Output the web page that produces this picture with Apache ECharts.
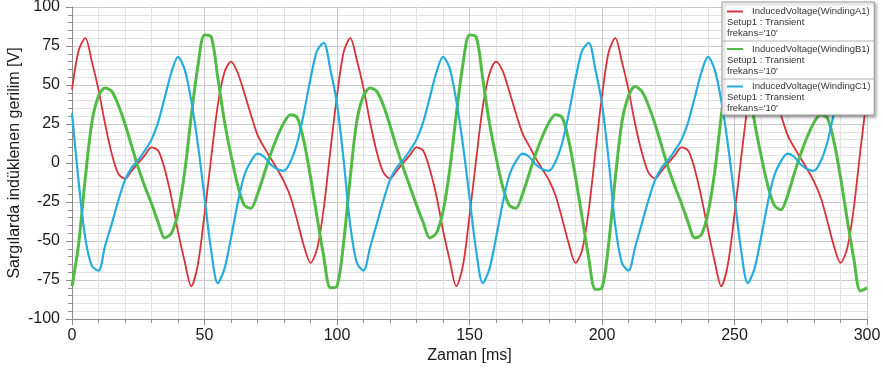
<!DOCTYPE html>
<html>
<head>
<meta charset="utf-8">
<script src="https://cdn.jsdelivr.net/npm/echarts@6/dist/echarts.min.js"></script>
<style>
  html, body { margin: 0; padding: 0; background: #fff; }
  #chart { width: 883px; height: 375px; }
</style>
</head>
<body>
<div id="chart"></div>
<script>
// time samples [ms], read every 2.5 ms
const timeMs = [
  0, 2.5, 5, 7.5, 10, 12.5, 15, 17.5, 20, 22.5, 25, 27.5, 30, 32.5, 35, 37.5, 40, 42.5, 45, 47.5,
  50, 52.5, 55, 57.5, 60, 62.5, 65, 67.5, 70, 72.5, 75, 77.5, 80, 82.5, 85, 87.5, 90, 92.5, 95, 97.5,
  100, 102.5, 105, 107.5, 110, 112.5, 115, 117.5, 120, 122.5, 125, 127.5, 130, 132.5, 135, 137.5, 140, 142.5, 145, 147.5,
  150, 152.5, 155, 157.5, 160, 162.5, 165, 167.5, 170, 172.5, 175, 177.5, 180, 182.5, 185, 187.5, 190, 192.5, 195, 197.5,
  200, 202.5, 205, 207.5, 210, 212.5, 215, 217.5, 220, 222.5, 225, 227.5, 230, 232.5, 235, 237.5, 240, 242.5, 245, 247.5,
  250, 252.5, 255, 257.5, 260, 262.5, 265, 267.5, 270, 272.5, 275, 277.5, 280, 282.5, 285, 287.5, 290, 292.5, 295, 297.5,
  300
];

const windingA1 = [
  47, 72, 80, 65, 47, 25, 6, -7, -10, -5, 0, 5, 10, 8, -4, -22, -44, -63, -79, -65,
  -33, 3, 37, 58, 65, 58, 45, 31, 18, 10, 3, -4, -12, -22, -37, -53, -64, -55, -29, 8,
  43, 71, 80, 66, 48, 26, 7, -6, -10, -5, 0, 5, 10, 8, -4, -21, -43, -62, -79, -66,
  -34, 2, 36, 57, 65, 59, 46, 32, 19, 11, 3, -4, -11, -21, -36, -52, -64, -56, -30, 7,
  43, 71, 80, 65, 47, 25, 7, -6, -10, -5, 0, 5, 10, 8, -4, -22, -43, -63, -79, -65,
  -33, 3, 37, 58, 65, 58, 45, 31, 18, 10, 3, -4, -12, -22, -37, -53, -64, -55, -29, 8,
  43
];

const windingB1 = [
  -79, -52, -10, 26, 43, 48, 46, 37, 25, 11, -3, -15, -26, -38, -48, -45, -32, -6, 30, 62,
  82, 81, 55, 27, 5, -14, -27, -29, -20, -7, 6, 17, 26, 31, 29, 14, -9, -35, -60, -80,
  -79, -51, -9, 27, 43, 48, 46, 37, 24, 10, -3, -15, -27, -38, -48, -45, -31, -5, 31, 63,
  82, 81, 54, 26, 4, -15, -27, -29, -20, -7, 6, 17, 26, 31, 29, 14, -9, -35, -61, -81,
  -80, -52, -10, 26, 43, 49, 46, 37, 25, 11, -3, -15, -26, -38, -48, -46, -32, -6, 30, 62,
  82, 81, 55, 27, 5, -14, -27, -30, -21, -7, 6, 17, 26, 31, 29, 14, -9, -36, -61, -82,
  -80
];

const windingC1 = [
  32, -12, -48, -66, -69, -53, -39, -24, -11, -3, 2, 8, 15, 26, 42, 58, 68, 60, 40, 12,
  -22, -56, -77, -68, -48, -26, -8, 1, 6, 4, -1, -4, -5, 1, 13, 32, 54, 72, 77, 60,
  38, 2, -40, -64, -69, -54, -39, -24, -11, -3, 2, 8, 15, 26, 42, 58, 68, 61, 40, 12,
  -22, -56, -77, -68, -48, -26, -8, 1, 6, 4, -1, -4, -5, 1, 13, 32, 54, 72, 77, 60,
  38, 2, -40, -64, -69, -54, -39, -24, -11, -3, 2, 8, 15, 26, 42, 58, 68, 60, 40, 12,
  -22, -56, -77, -68, -48, -26, -8, 1, 6, 4, -1, -4, -5, 1, 13, 32, 54, 72, 77, 60,
  36
];

const seriesNames = ['InducedVoltage(WindingA1)', 'InducedVoltage(WindingB1)', 'InducedVoltage(WindingC1)'];
const seriesColors = ['#d8313a', '#52bb45', '#26acde'];
const seriesWidths = [1.8, 3, 2.2];
const legendSubLines = ['Setup1 : Transient', "frekans='10'"];

const font = "'Liberation Sans', Arial, sans-serif";
const pairs = vals => timeMs.map((t, i) => [t, vals[i]]);
const allValues = [windingA1, windingB1, windingC1];

const chart = echarts.init(document.getElementById('chart'));

const options = {
  backgroundColor: '#fff',
  animation: false,
  grid: { left: 72, right: 16, top: 7, bottom: 56, outerBoundsMode: 'none' },
  legend: {
    orient: 'vertical',
    left: 722,
    top: 2,
    icon: 'none',
    itemWidth: 0,
    itemHeight: 33,
    itemGap: 4.5,
    padding: [4, 4, 1, 0],
    backgroundColor: '#fff',
    borderColor: '#9a9a9a',
    borderWidth: 1,
    shadowColor: 'rgba(0,0,0,0.35)',
    shadowBlur: 3,
    shadowOffsetX: 2,
    shadowOffsetY: 2,
    data: seriesNames,
    formatter: name => {
      const k = 'l' + seriesNames.indexOf(name);
      return '{' + k + '| }{gap| }{name|' + name + '}\n{sub|' + legendSubLines[0] + '}\n{sub|' + legendSubLines[1] + '}';
    },
    textStyle: {
      fontFamily: font,
      fontSize: 9.5,
      color: '#333',
      lineHeight: 11,
      rich: {
        l0: { width: 16, height: 2, backgroundColor: seriesColors[0] },
        l1: { width: 16, height: 2, backgroundColor: seriesColors[1] },
        l2: { width: 16, height: 2, backgroundColor: seriesColors[2] },
        gap: { width: 9 },
        name: { fontFamily: font, fontSize: 9.5, color: '#333', lineHeight: 11 },
        sub: { fontFamily: font, fontSize: 9.5, color: '#333', lineHeight: 11 }
      }
    }
  },
  graphic: [
    { type: 'line', z: 100, shape: { x1: 722, y1: 41, x2: 874, y2: 41 }, style: { stroke: '#b5b5b5', lineWidth: 1 } },
    { type: 'line', z: 100, shape: { x1: 722, y1: 79, x2: 874, y2: 79 }, style: { stroke: '#b5b5b5', lineWidth: 1 } }
  ],
  xAxis: {
    type: 'value',
    min: 0,
    max: 300,
    interval: 50,
    name: 'Zaman [ms]',
    nameLocation: 'middle',
    nameGap: 29,
    nameMoveOverlap: false,
    nameTextStyle: { fontFamily: font, fontSize: 16, color: '#1a1a1a' },
    axisLine: { onZero: false, lineStyle: { color: '#8c8c8c', width: 1 } },
    axisTick: { show: true, length: 6, lineStyle: { color: '#8c8c8c' } },
    minorTick: { show: true, splitNumber: 5, length: 4, lineStyle: { color: '#8c8c8c' } },
    axisLabel: { fontFamily: font, fontSize: 16, color: '#1a1a1a', margin: 9 },
    splitLine: { show: true, lineStyle: { color: '#c9c9c9', width: 1 } },
    minorSplitLine: { show: true, lineStyle: { color: '#e2e2e2', width: 1 } }
  },
  yAxis: {
    type: 'value',
    min: -100,
    max: 100,
    interval: 25,
    name: 'Sargılarda indüklenen gerilim [V]',
    nameLocation: 'middle',
    nameGap: 49,
    nameMoveOverlap: false,
    nameTextStyle: { fontFamily: font, fontSize: 16, color: '#1a1a1a' },
    axisLine: { show: true, lineStyle: { color: '#8c8c8c', width: 1 } },
    axisTick: { show: true, length: 6, lineStyle: { color: '#8c8c8c' } },
    minorTick: { show: true, splitNumber: 5, length: 4, lineStyle: { color: '#8c8c8c' } },
    axisLabel: { fontFamily: font, fontSize: 16, color: '#1a1a1a', margin: 12 },
    splitLine: { show: true, lineStyle: { color: '#c9c9c9', width: 1 } },
    minorSplitLine: { show: true, lineStyle: { color: '#e2e2e2', width: 1 } }
  },
  series: seriesNames.map((name, i) => ({
    name: name,
    type: 'line',
    data: pairs(allValues[i]),
    showSymbol: false,
    smooth: 0.3,
    color: seriesColors[i],
    lineStyle: { color: seriesColors[i], width: seriesWidths[i] }
  }))
};

chart.setOption(options);
window.addEventListener('resize', () => chart.resize());
</script>
</body>
</html>
